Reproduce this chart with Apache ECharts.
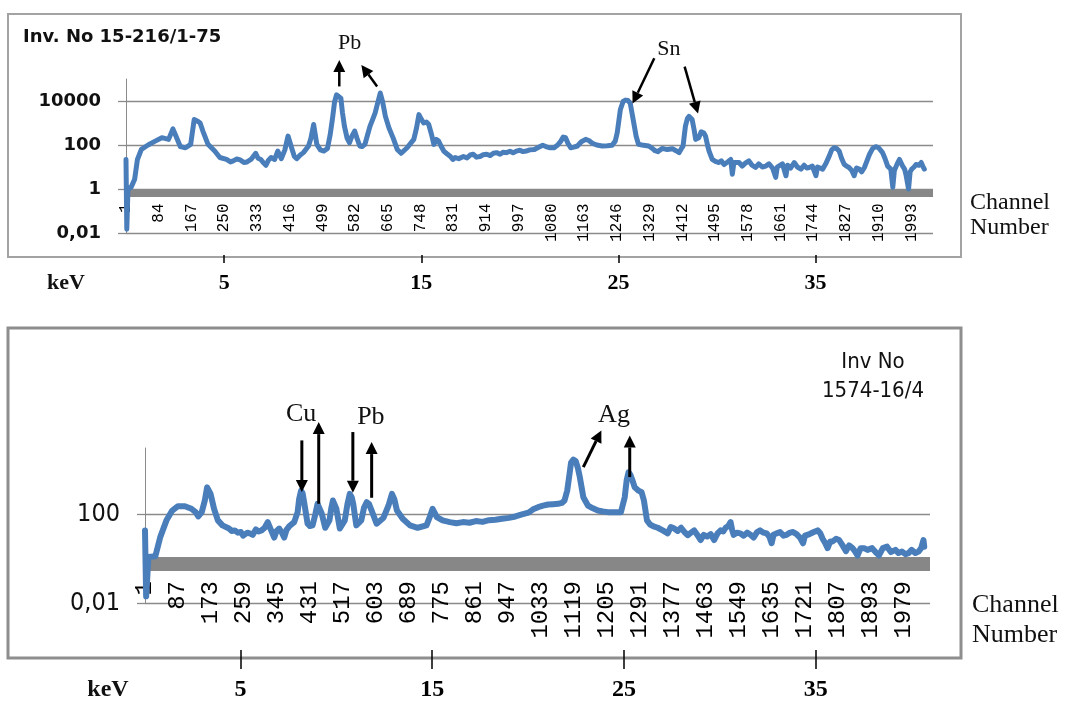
<!DOCTYPE html>
<html><head><meta charset="utf-8">
<script src="https://cdn.jsdelivr.net/npm/echarts@6/dist/echarts.min.js"></script>
<style>html,body{margin:0;padding:0;background:#fff}#c{width:1082px;height:703px}</style>
</head><body><div id="c"></div>
<script>
// ---- data (channel, counts) ----
const topSpectrum = [[1,22],[3,0.015],[6,1],[14,1.2],[23,2.8],[30,22],[40,63],[57,100],[75,150],[92,215],[109,180],[120,540],[126,300],[139,84],[152,75],[165,107],[174,1440],[183,1200],[189,1000],[196,430],[209,107],[226,53],[239,27],[256,22],[266,17],[273,19],[282,23],[291,21],[300,16],[308,17],[318,22],[330,42],[336,25],[343,22],[349,16],[356,12],[362,20],[369,27],[378,22],[386,53],[395,24],[404,60],[412,254],[421,75],[428,30],[434,24],[443,35],[451,45],[464,90],[470,200],[477,850],[485,107],[494,60],[503,53],[512,70],[519,300],[525,1700],[530,9000],[535,19000],[540,17000],[546,13500],[550,3000],[555,720],[562,200],[568,127],[574,250],[581,430],[587,200],[594,90],[600,85],[607,107],[614,300],[620,720],[627,1500],[633,2900],[640,9000],[646,23000],[652,9000],[659,2000],[668,600],[679,200],[689,63],[699,42],[714,75],[731,180],[738,600],[744,2400],[750,1500],[756,1000],[763,1100],[769,850],[776,300],[782,107],[788,180],[794,150],[800,90],[807,53],[815,40],[824,30],[830,22],[836,27],[845,24],[857,30],[866,26],[874,35],[882,38],[890,28],[899,30],[907,36],[916,38],[925,33],[933,42],[941,45],[950,38],[958,47],[966,45],[975,52],[983,44],[991,53],[1000,58],[1008,50],[1016,53],[1025,60],[1037,63],[1045,75],[1058,97],[1066,85],[1075,75],[1087,75],[1096,100],[1104,150],[1110,230],[1116,215],[1122,120],[1129,75],[1137,80],[1146,90],[1156,140],[1167,180],[1175,160],[1184,120],[1195,100],[1209,90],[1222,92],[1234,97],[1242,150],[1247,360],[1255,4100],[1262,9500],[1268,11000],[1274,10500],[1280,8000],[1289,1000],[1295,250],[1301,107],[1310,100],[1318,95],[1327,90],[1336,70],[1343,55],[1350,50],[1361,70],[1374,62],[1387,68],[1396,55],[1404,45],[1410,70],[1414,90],[1420,720],[1425,1600],[1429,2000],[1433,1900],[1437,1440],[1442,500],[1446,180],[1454,215],[1460,400],[1463,430],[1467,350],[1471,254],[1476,100],[1480,53],[1488,22],[1496,18],[1505,16],[1511,19],[1518,13],[1527,17],[1535,22],[1539,4.7],[1543,16],[1548,13],[1556,16],[1564,11],[1572,15],[1581,19],[1589,12],[1598,9.5],[1606,14],[1615,10],[1624,11],[1632,14],[1641,9],[1649,3.4],[1653,10],[1658,11],[1666,14],[1675,4],[1679,12],[1687,9],[1696,16],[1704,10],[1713,8],[1721,12],[1728,9],[1734,9.5],[1742,11],[1751,4],[1755,10],[1762,9],[1768,8],[1776,14],[1785,32],[1791,60],[1797,75],[1803,70],[1810,53],[1816,25],[1823,13],[1829,11],[1835,9.5],[1842,7],[1848,4],[1854,9],[1861,8],[1867,6],[1874,9.5],[1880,18],[1887,38],[1895,70],[1903,84],[1910,75],[1920,45],[1926,25],[1933,11],[1941,8],[1946,1.2],[1950,7],[1954,8],[1958,15],[1963,22],[1967,20],[1971,11],[1976,8],[1980,4],[1986,1],[1990,6],[1994,8],[2000,10],[2005,13],[2012,12],[2018,16],[2022,11],[2026,8]];

const bottomSpectrum = [[1,19],[4,0.02],[10,1.2],[28,1.3],[41,9.7],[57,54],[72,150],[87,236],[105,236],[122,180],[133,127],[140,81],[149,127],[157,424],[163,1670],[172,845],[181,180],[191,54],[203,32],[220,23],[227,18],[235,19],[243,15],[251,16],[257,11],[262,9.7],[268,15],[274,14],[282,12],[290,21],[297,17],[305,19],[313,25],[321,45],[330,19],[338,9],[344,18],[351,23],[358,15],[364,9],[370,20],[377,29],[390,45],[399,127],[403,500],[408,1180],[412,900],[416,357],[425,38],[431,30],[438,32],[445,100],[451,300],[456,250],[462,107],[471,25],[482,54],[487,200],[491,424],[496,350],[500,180],[509,23],[522,54],[529,300],[535,845],[540,600],[544,300],[552,32],[565,54],[572,200],[579,357],[585,300],[592,150],[605,38],[623,71],[636,253],[645,845],[651,500],[658,150],[673,64],[692,32],[712,25],[735,32],[744,80],[751,180],[762,76],[777,54],[796,45],[813,40],[830,45],[847,42],[864,50],[881,46],[898,55],[915,58],[932,64],[950,70],[967,81],[984,100],[1001,120],[1013,170],[1026,213],[1039,250],[1052,280],[1065,290],[1078,300],[1088,330],[1095,424],[1102,1200],[1107,5000],[1112,22000],[1118,30000],[1124,26000],[1130,12000],[1135,4700],[1140,1500],[1144,600],[1156,253],[1169,190],[1182,150],[1195,135],[1208,127],[1225,125],[1242,127],[1252,600],[1257,3500],[1262,8000],[1267,6000],[1272,3500],[1278,1670],[1283,1400],[1288,1180],[1292,1300],[1296,1000],[1302,424],[1310,54],[1318,35],[1327,29],[1338,25],[1351,19],[1364,14],[1372,27],[1381,23],[1390,18],[1399,25],[1408,16],[1416,11.5],[1425,15],[1433,19],[1441,12],[1450,7],[1458,12],[1467,10],[1476,13],[1485,7],[1494,14],[1502,19],[1509,17],[1515,25],[1522,30],[1528,45],[1532,20],[1536,12],[1545,15],[1553,14],[1562,11],[1571,15],[1580,12],[1588,9],[1597,16],[1605,19],[1614,15],[1622,14],[1629,10],[1635,5],[1640,12],[1648,14],[1657,16],[1666,11],[1674,12],[1683,15],[1691,16],[1700,13],[1709,9],[1717,5],[1722,11],[1734,13],[1745,16],[1755,19],[1762,14],[1768,8],[1775,5],[1781,3],[1788,6],[1794,6],[1803,8],[1811,7],[1820,4],[1829,2.2],[1837,4],[1846,3],[1852,2.2],[1859,1.4],[1867,3],[1876,3],[1885,2.5],[1897,3],[1906,2],[1915,1.4],[1925,3],[1936,3.5],[1946,2],[1958,2.5],[1966,1.8],[1975,2.1],[1984,1.6],[1992,1.8],[2000,2.5],[2010,1.8],[2018,2.1],[2025,3],[2031,6.9],[2033,3.5]];

const topChannelTicks = [1,84,167,250,333,416,499,582,665,748,831,914,997,1080,1163,1246,1329,1412,1495,1578,1661,1744,1827,1910,1993];
const bottomChannelTicks = [1,87,173,259,345,431,517,603,689,775,861,947,1033,1119,1205,1291,1377,1463,1549,1635,1721,1807,1893,1979];
const keVTicks = [5,15,25,35];
const topYTicks = [0.01,1,100,10000];
const bottomYTicks = [0.01,100];

// annotations: [fromChannel, fromCounts, toChannel, toCounts] (arrow head at "to")
const topArrows = [[542,46000,542,733000],[638,46000,598,436000],[1341,871000,1286,7600],[1418,366000,1452,2680]];
const topNotes = [['Pb',568,4.1e6],['Sn',1378,2.2e6]];
const bottomArrows = [[410,220000,410,1020],[454,303,454,1.48e6],[543,525000,543,955],[592,566,592,185000],[1144,13800,1191,624000],[1265,4860,1265,371000]];
const bottomNotes = [['Cu',408,3.5e6],['Pb',590,2.5e6],['Ag',1224,2.95e6]];

const BLUE = '#4a7ebb', GRID = '#8a8a8a', BAND = '#878787';
const fmtY = v => { const e = Math.round(Math.log10(v)); return e < 0 ? '0,' + '0'.repeat(-e - 1) + '1' : String(Math.pow(10, e)); };

function chanAxis(gi, ticks, off, band, margin, fs) {
  return { type: 'value', gridIndex: gi, min: 1, max: 2048, position: 'bottom', offset: off,
    axisLine: { show: true, lineStyle: { color: BAND, width: band, cap: 'butt' } },
    axisTick: { show: false, customValues: ticks },
    splitLine: { show: false },
    axisLabel: { customValues: ticks, rotate: 90, margin: margin, color: '#000', formatter: v => String(Math.round(v)),
      fontFamily: "'Liberation Mono', 'DejaVu Sans Mono', monospace", fontSize: fs } };
}
function kevAxis(gi, off, tickLen, margin, fs) {
  return { type: 'value', gridIndex: gi, min: 0.02, max: 40.96, position: 'bottom', offset: off,
    axisLine: { show: false },
    axisTick: { show: true, inside: false, length: tickLen, customValues: keVTicks, lineStyle: { color: '#000', width: 1.5 } },
    splitLine: { show: false },
    axisLabel: { customValues: keVTicks, margin: margin, color: '#000', fontWeight: 'bold',
      fontFamily: "'Liberation Serif', 'DejaVu Serif', serif", fontSize: fs } };
}
function logAxis(gi, ticks, font, fs, fw) {
  return { type: 'log', logBase: 10, gridIndex: gi, min: 0.01, max: 100000,
    axisLine: { show: true, lineStyle: { color: GRID, width: 1 } },
    axisTick: { show: true, length: 8, customValues: ticks, lineStyle: { color: GRID, width: 1.3 } },
    splitLine: { show: true, lineStyle: { color: GRID, width: 1.3 } },
    minorTick: { show: false }, minorSplitLine: { show: false },
    axisLabel: { customValues: ticks, margin: 25, color: '#111', fontFamily: font, fontSize: fs, fontWeight: fw, formatter: fmtY } };
}

const chart = echarts.init(document.getElementById('c'), null, { renderer: 'canvas' });
chart.setOption({
  animation: false,
  backgroundColor: '#fff',
  grid: [
    { left: 126, right: 149, top: 79, bottom: 470, containLabel: false, outerBoundsMode: 'none' },
    { left: 145, right: 152, top: 448, bottom: 100, containLabel: false, outerBoundsMode: 'none' }
  ],
  xAxis: [
    chanAxis(0, topChannelTicks, -39.5, 7, 10, 16),
    kevAxis(0, 22, 8, 17, 22),
    chanAxis(1, bottomChannelTicks, -39, 14, 17, 24),
    kevAxis(1, 47, 19, 28, 24)
  ],
  yAxis: [
    logAxis(0, topYTicks, "'DejaVu Sans', sans-serif", 18, 'bold'),
    logAxis(1, bottomYTicks, "'Liberation Sans Narrow', 'DejaVu Sans Condensed', sans-serif", 25, 'normal')
  ],
  series: [
    { type: 'line', xAxisIndex: 0, yAxisIndex: 0, data: topSpectrum, showSymbol: false, symbol: 'none',
      lineStyle: { color: BLUE, width: 5, join: 'round', cap: 'round' }, z: 3 },
    { type: 'line', xAxisIndex: 2, yAxisIndex: 1, data: bottomSpectrum, showSymbol: false, symbol: 'none',
      lineStyle: { color: BLUE, width: 6, join: 'round', cap: 'round' }, z: 3 }
  ]
});

// ---- decorations & annotations ----
const serif = "'Liberation Serif', 'DejaVu Serif', serif";
const g = [];
g.push({ type: 'rect', shape: { x: 8, y: 14, width: 953, height: 243 }, style: { fill: null, stroke: '#a3a3a3', lineWidth: 2 }, z: -1 });
g.push({ type: 'rect', shape: { x: 8, y: 328, width: 953, height: 330 }, style: { fill: null, stroke: '#8e8e8e', lineWidth: 3 }, z: -1 });
function txt(t, x, y, font, align) {
  g.push({ type: 'text', x: x, y: y, style: { text: t, font: font, fill: '#111', align: align || 'left', verticalAlign: 'middle' }, z: 10 });
}
txt('Inv. No 15-216/1-75', 23, 37, "bold 18px 'DejaVu Sans', sans-serif");
txt('Inv No', 873, 362, "22px 'Liberation Sans Narrow', 'DejaVu Sans Condensed', sans-serif", 'center');
txt('1574-16/4', 873, 391, "22px 'Liberation Sans Narrow', 'DejaVu Sans Condensed', sans-serif", 'center');
txt('Channel', 970, 203, '24px ' + serif); txt('Number', 970, 228, '24px ' + serif);
txt('Channel', 972, 605, '26px ' + serif); txt('Number', 972, 635, '26px ' + serif);
txt('keV', 66, 283, 'bold 22px ' + serif, 'center');
txt('keV', 108, 690, 'bold 24px ' + serif, 'center');

function arrows(list, notes, si, lw, fs) {
  list.forEach(a => {
    const p1 = chart.convertToPixel({ seriesIndex: si }, [a[0], a[1]]);
    const p2 = chart.convertToPixel({ seriesIndex: si }, [a[2], a[3]]);
    const dx = p2[0] - p1[0], dy = p2[1] - p1[1], L = Math.hypot(dx, dy);
    const ux = dx / L, uy = dy / L, hl = 12, hw = 6;
    const bx = p2[0] - ux * hl, by = p2[1] - uy * hl;
    g.push({ type: 'line', shape: { x1: p1[0], y1: p1[1], x2: bx, y2: by }, style: { stroke: '#000', lineWidth: lw }, z: 10 });
    g.push({ type: 'polygon', shape: { points: [[p2[0], p2[1]], [bx - uy * hw, by + ux * hw], [bx + uy * hw, by - ux * hw]] }, style: { fill: '#000' }, z: 10 });
  });
  notes.forEach(n => {
    const p = chart.convertToPixel({ seriesIndex: si }, [n[1], n[2]]);
    txt(n[0], p[0], p[1], fs + 'px ' + serif, 'center');
  });
}
arrows(topArrows, topNotes, 0, 2.5, 22);
arrows(bottomArrows, bottomNotes, 1, 3, 26);
chart.setOption({ graphic: g });
</script></body></html>
